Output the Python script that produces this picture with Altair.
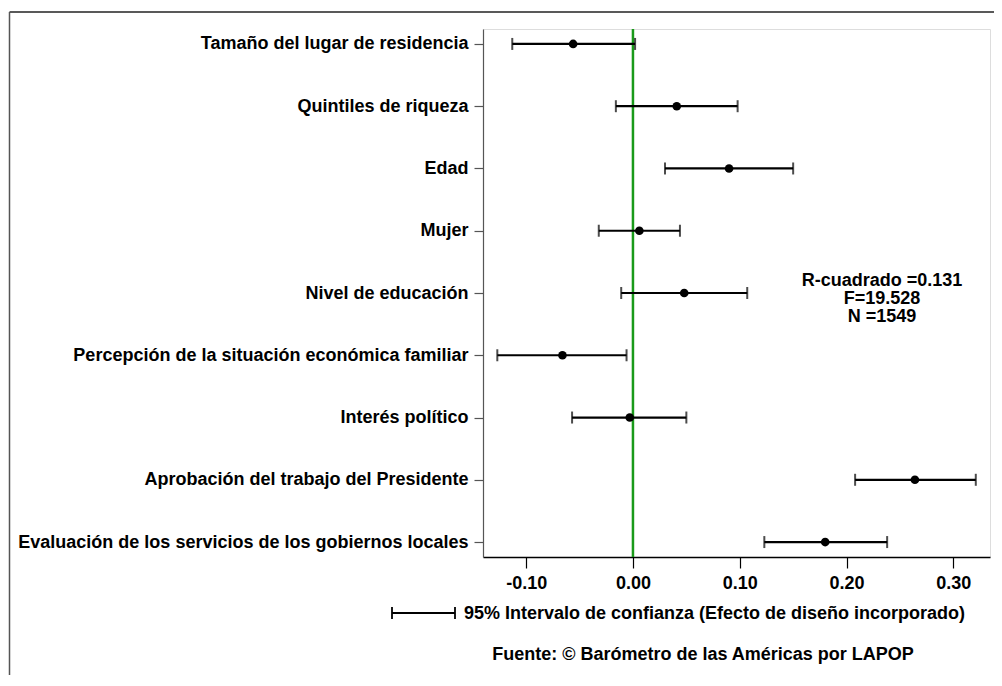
import altair as alt
import pandas as pd

categories = [
    "Tamaño del lugar de residencia",
    "Quintiles de riqueza",
    "Edad",
    "Mujer",
    "Nivel de educación",
    "Percepción de la situación económica familiar",
    "Interés político",
    "Aprobación del trabajo del Presidente",
    "Evaluación de los servicios de los gobiernos locales",
]
coef = [-0.056, 0.041, 0.090, 0.006, 0.048, -0.066, -0.003, 0.264, 0.180]
lower = [-0.113, -0.016, 0.030, -0.032, -0.011, -0.127, -0.057, 0.208, 0.123]
upper = [0.002, 0.098, 0.150, 0.044, 0.107, -0.006, 0.050, 0.321, 0.238]

stats_lines = ["R-cuadrado =0.131", "F=19.528", "N =1549"]
legend_text = "95% Intervalo de confianza (Efecto de diseño incorporado)"
source_text = "Fuente: © Barómetro de las Américas por LAPOP"
x_ticks = [-0.1, 0.0, 0.1, 0.2, 0.3]

df = pd.DataFrame({"var": categories, "coef": coef, "lo": lower, "hi": upper})

FONT = "Liberation Sans"
FS = 18
W, H = 507, 528

xscale = alt.Scale(domain=[-0.1404, 0.3343], nice=False, zero=False)
yscale = alt.Scale(type="point", domain=categories, padding=0.24)

xenc = alt.X(
    "coef:Q", scale=xscale, title=None,
    axis=alt.Axis(values=x_ticks, grid=False, domainColor="#000",
                  labelExpr="datum.value < 0 ? '-' + format(-datum.value, '.2f') : format(datum.value, '.2f')",
                  domainWidth=1.5, tickColor="#000", tickSize=11, tickWidth=1.2,
                  labelFont=FONT, labelFontWeight="bold", labelFontSize=FS,
                  labelColor="#000", labelPadding=6),
)
yenc = alt.Y(
    "var:N", scale=yscale, sort=categories, title=None,
    axis=alt.Axis(grid=False, domainColor="#555", domainWidth=1.2, tickColor="#555",
                  tickSize=9, tickWidth=1.2, labelFont=FONT, labelFontWeight="bold",
                  labelFontSize=FS, labelColor="#000", labelPadding=6, labelLimit=600),
)

base = alt.Chart(df)

zero_line = alt.Chart(pd.DataFrame({"z": [0.0]})).mark_rule(
    color="#1a9a1a", strokeWidth=2.5
).encode(x=alt.X("z:Q", scale=xscale))

bars = base.mark_rule(color="#000", strokeWidth=2.2).encode(
    x=alt.X("lo:Q", scale=xscale), x2="hi:Q", y=yenc
)
cap_lo = base.mark_tick(color="#000", thickness=2, size=12).encode(
    x=alt.X("lo:Q", scale=xscale), y=yenc
)
cap_hi = base.mark_tick(color="#000", thickness=2, size=12).encode(
    x=alt.X("hi:Q", scale=xscale), y=yenc
)
points = base.mark_circle(color="#000", opacity=1, size=75).encode(x=xenc, y=yenc)

stats = alt.Chart(pd.DataFrame({"t": ["\n".join(stats_lines)]})).mark_text(
    font=FONT, fontWeight="bold", fontSize=FS, color="#000", align="center",
    baseline="top", lineBreak="\n", lineHeight=18
).encode(text="t:N", x=alt.value(399), y=alt.value(243))

leg_df = pd.DataFrame({"t": [legend_text]})
leg_bar = alt.Chart(leg_df).mark_rule(color="#000", strokeWidth=1.8).encode(
    x=alt.value(-91), x2=alt.value(-28), y=alt.value(584))
leg_c1 = alt.Chart(leg_df).mark_rule(color="#000", strokeWidth=1.8).encode(
    x=alt.value(-91), y=alt.value(578), y2=alt.value(590))
leg_c2 = alt.Chart(leg_df).mark_rule(color="#000", strokeWidth=1.8).encode(
    x=alt.value(-28), y=alt.value(578), y2=alt.value(590))
leg_text = alt.Chart(leg_df).mark_text(
    font=FONT, fontWeight="bold", fontSize=FS, color="#000", align="left", baseline="middle"
).encode(text="t:N", x=alt.value(-19), y=alt.value(585))

src = alt.Chart(pd.DataFrame({"t": [source_text]})).mark_text(
    font=FONT, fontWeight="bold", fontSize=FS, color="#000", align="center", baseline="middle"
).encode(text="t:N", x=alt.value(220), y=alt.value(626))

frame_df = pd.DataFrame({"k": [1]})
frame_top = alt.Chart(frame_df).mark_rule(color="#222", strokeWidth=1.5).encode(
    x=alt.value(-473.5), x2=alt.value(530), y=alt.value(-17))
frame_left = alt.Chart(frame_df).mark_rule(color="#555", strokeWidth=1.5).encode(
    x=alt.value(-473.5), y=alt.value(-17), y2=alt.value(660))

chart = alt.layer(
    frame_top, frame_left, zero_line, bars, cap_lo, cap_hi, points, stats,
    leg_bar, leg_c1, leg_c2, leg_text, src
).properties(
    width=W, height=H,
    autosize=alt.AutoSizeParams(type="none"),
    padding={"left": 475, "top": 21, "right": 4, "bottom": 118},
).configure_view(stroke=None).configure(background="white")

chart.save("out.html", embed_options={"renderer": "svg", "actions": False})
